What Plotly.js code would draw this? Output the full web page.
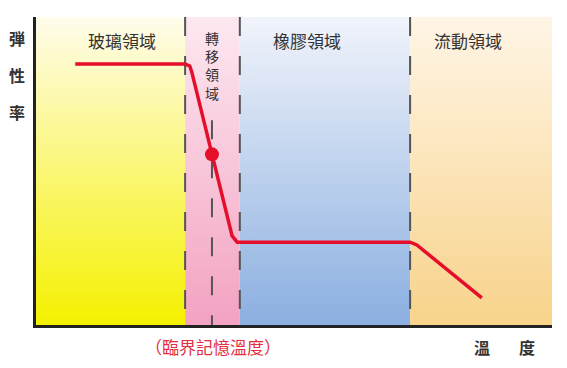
<!DOCTYPE html>
<html>
<head>
<meta charset="utf-8">
<script src="https://cdn.plot.ly/plotly-3.0.1.min.js"></script>
<style>html,body{margin:0;padding:0;background:#fff;}#chart{width:567px;height:368px;}</style>
</head>
<body>
<div id="chart"></div>
<script>
// Region boundaries (temperature axis, arbitrary units 0-100)
const regionNames = ['玻璃領域', '轉移領域', '橡膠領域', '流動領域'];
const regionEdges = [0, 28.9, 39.5, 72.5, 100];
const regionBottomColors = ['#f5f100', '#f3a2c2', '#8bafe0', '#f8d38a'];
const regionTopColors = ['#fffcec', '#fde8f0', '#f1f4fb', '#fff5e6'];
const criticalTemp = 34.1;

// Modulus curve
const curveX = [7.6, 28.9, 29.8, 30.2, 38.0, 39.0, 72.5, 73.8, 86.4];
const curveY = [84.7, 84.7, 84.1, 82.1, 28.9, 26.9, 26.9, 26.0, 8.8];
const pointX = [34.1];
const pointY = [55.4];

const yAxisChars = ['弾', '性', '率'];
const xAxisChars = ['溫', '度'];
const criticalLabel = '（臨界記憶溫度）';

const FONT = '"Noto Sans CJK TC", "Noto Sans CJK JP", sans-serif';
const traces = [];

for (let i = 0; i < 4; i++) {
  const x0 = regionEdges[i], x1 = regionEdges[i + 1];
  traces.push({
    type: 'scatter', mode: 'lines',
    x: [x0, x1, x1, x0, x0], y: [0, 0, 100, 100, 0],
    fill: 'toself',
    fillgradient: {type: 'vertical', colorscale: [[0, regionBottomColors[i]], [1, regionTopColors[i]]]},
    line: {width: 0}, hoverinfo: 'skip', showlegend: false
  });
}
// dashed boundaries
[regionEdges[1], regionEdges[2], regionEdges[3]].forEach(xb => {
  traces.push({type: 'scatter', mode: 'lines', x: [xb, xb], y: [100, 0],
    line: {color: '#555', width: 2, dash: '19px,20px'}, hoverinfo: 'skip', showlegend: false});
});
traces.push({type: 'scatter', mode: 'lines', x: [criticalTemp, criticalTemp], y: [66.5, 0],
  line: {color: '#555', width: 2, dash: '19px,20px'}, hoverinfo: 'skip', showlegend: false});

traces.push({type: 'scatter', mode: 'lines', x: curveX, y: curveY,
  line: {color: '#e50f2b', width: 3.5}, hoverinfo: 'skip', showlegend: false});
traces.push({type: 'scatter', mode: 'markers', x: pointX, y: pointY,
  marker: {color: '#e50f2b', size: 14}, hoverinfo: 'skip', showlegend: false});

const annotations = [];
function ann(o) {
  annotations.push(Object.assign({showarrow: false, xanchor: 'center', yanchor: 'middle'}, o));
}
const horizLabelX = [16.7, null, 52.5, 83.7];
[0, 2, 3].forEach(i => {
  ann({x: horizLabelX[i], y: 92.5, xref: 'x', yref: 'y', text: regionNames[i],
    font: {family: FONT, size: 17, color: '#333'}});
});
// vertical label for transition region
ann({x: criticalTemp, y: 84.3, xref: 'x', yref: 'y', text: Array.from(regionNames[1]).join('<br>'),
  font: {family: FONT, size: 14, color: '#333'}});
yAxisChars.forEach((c, k) => {
  ann({x: -0.037, y: 0.932 - k * 0.12, xref: 'paper', yref: 'paper', text: '<b>' + c + '</b>',
    font: {family: FONT, size: 16, color: '#333'}});
});
ann({x: 0.864, y: -0.071, xref: 'paper', yref: 'paper', text: '<b>' + xAxisChars[0] + '</b>',
  font: {family: FONT, size: 16, color: '#333'}});
ann({x: 0.952, y: -0.071, xref: 'paper', yref: 'paper', text: '<b>' + xAxisChars[1] + '</b>',
  font: {family: FONT, size: 16, color: '#333'}});
ann({x: 0.343, y: -0.071, xref: 'paper', yref: 'paper', text: criticalLabel,
  font: {family: FONT, size: 17, color: '#e4303e'}});

const layout = {
  width: 567, height: 368,
  margin: {l: 36, r: 15, t: 17, b: 43, pad: 0},
  paper_bgcolor: '#fff', plot_bgcolor: '#fff',
  showlegend: false,
  xaxis: {range: [0, 100], showgrid: false, zeroline: false, showticklabels: false, ticks: '',
    showline: true, linecolor: '#222', linewidth: 3, fixedrange: true},
  yaxis: {range: [0, 100], showgrid: false, zeroline: false, showticklabels: false, ticks: '',
    showline: true, linecolor: '#222', linewidth: 3, fixedrange: true},
  annotations: annotations
};
Plotly.newPlot('chart', traces, layout, {displayModeBar: false, staticPlot: true});
</script>
</body>
</html>
